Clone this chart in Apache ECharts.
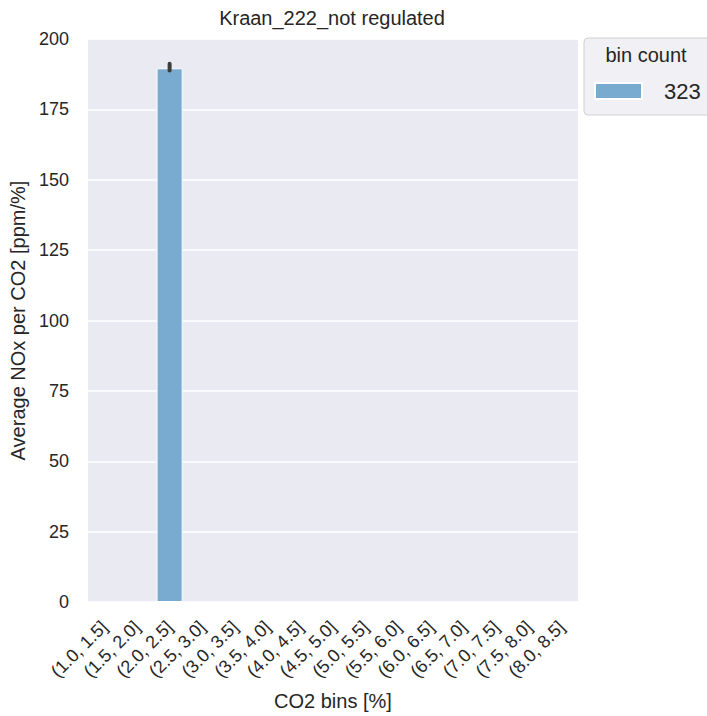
<!DOCTYPE html>
<html>
<head>
<meta charset="utf-8">
<script src="https://cdn.jsdelivr.net/npm/echarts@6/dist/echarts.min.js"></script>
<style>
  html, body { margin: 0; padding: 0; background: #ffffff; }
  #chart { width: 707px; height: 716px; }
</style>
</head>
<body>
<div id="chart"></div>
<script>
// ---- data ----
const chartTitle = 'Kraan_222_not regulated';
const xAxisName = 'CO2 bins [%]';
const yAxisName = 'Average NOx per CO2 [ppm/%]';
const categories = ['(1.0, 1.5]', '(1.5, 2.0]', '(2.0, 2.5]', '(2.5, 3.0]', '(3.0, 3.5]', '(3.5, 4.0]', '(4.0, 4.5]',
                    '(4.5, 5.0]', '(5.0, 5.5]', '(5.5, 6.0]', '(6.0, 6.5]', '(6.5, 7.0]', '(7.0, 7.5]', '(7.5, 8.0]',
                    '(8.0, 8.5]'];
const meanValues = [null, null, 189.6, null, null, null, null, null, null, null, null, null, null, null, null];
const errLow     = [null, null, 188.8, null, null, null, null, null, null, null, null, null, null, null, null];
const errHigh    = [null, null, 191.2, null, null, null, null, null, null, null, null, null, null, null, null];
const legendTitle = 'bin count';
const binCountLabel = '323';
const yTicks = { min: 0, max: 200, interval: 25 };

// ---- styling ----
const TEXT = '#262626';

const chart = echarts.init(document.getElementById('chart'), null, { renderer: 'svg' });

const errData = [];
categories.forEach((c, i) => {
  if (errLow[i] != null) errData.push([i, errLow[i], errHigh[i]]);
});

chart.setOption({
  backgroundColor: '#ffffff',
  animation: false,
  textStyle: { fontFamily: 'Liberation Sans, Arial, sans-serif' },
  title: [
    {
      text: chartTitle, left: 332, top: 8, padding: 0, textAlign: 'center',
      textStyle: { fontSize: 20, fontWeight: 'normal', color: TEXT, fontFamily: 'Liberation Sans, Arial, sans-serif' }
    },
    {
      text: legendTitle, left: 646, top: 45, padding: 0, textAlign: 'center',
      textStyle: { fontSize: 20, fontWeight: 'normal', color: TEXT, fontFamily: 'Liberation Sans, Arial, sans-serif' }
    }
  ],
  legend: {
    data: [binCountLabel],
    left: 584, top: 38,
    padding: [42, 20, 13, 10],
    backgroundColor: 'rgba(238,238,244,0.9)',
    borderColor: '#d0d0d0', borderWidth: 1, borderRadius: 4,
    icon: 'rect', itemWidth: 47, itemHeight: 16,
    textStyle: { fontSize: 22, color: TEXT, padding: [0, 0, 0, 17], fontFamily: 'Liberation Sans, Arial, sans-serif' },
    selectedMode: false
  },
  grid: { left: 87, right: 129, top: 39, bottom: 112, show: true, backgroundColor: '#EAEAF2', borderWidth: 0 },
  xAxis: {
    type: 'category', data: categories,
    name: xAxisName, nameLocation: 'middle', nameGap: 89,
    nameTextStyle: { fontSize: 20, color: TEXT },
    axisLine: { show: false }, axisTick: { show: false },
    axisLabel: { rotate: 45, fontSize: 18, color: TEXT, margin: 22, interval: 0 },
    splitLine: { show: false }
  },
  yAxis: {
    type: 'value', min: yTicks.min, max: yTicks.max, interval: yTicks.interval,
    name: yAxisName, nameLocation: 'middle', nameGap: 55,
    nameTextStyle: { fontSize: 20, color: TEXT },
    axisLine: { show: false }, axisTick: { show: false },
    axisLabel: { fontSize: 18, color: TEXT, margin: 19 },
    splitLine: { show: true, lineStyle: { color: '#ffffff', width: 1.5 } }
  },
  series: [
    {
      name: binCountLabel, type: 'bar', data: meanValues,
      barWidth: '80%',
      itemStyle: { color: '#78abcf', borderColor: '#ffffff', borderWidth: 1 },
      z: 2
    },
    {
      name: '_err', type: 'custom', data: errData, z: 5, silent: true,
      encode: { x: 0, y: [1, 2] },
      renderItem: function (params, api) {
        const i = api.value(0);
        const lo = api.coord([i, api.value(1)]);
        const hi = api.coord([i, api.value(2)]);
        return {
          type: 'line',
          shape: { x1: lo[0], y1: lo[1], x2: hi[0], y2: hi[1] },
          style: { stroke: '#3d3d3d', lineWidth: 4, lineCap: 'round' }
        };
      }
    }
  ]
});
</script>
</body>
</html>
